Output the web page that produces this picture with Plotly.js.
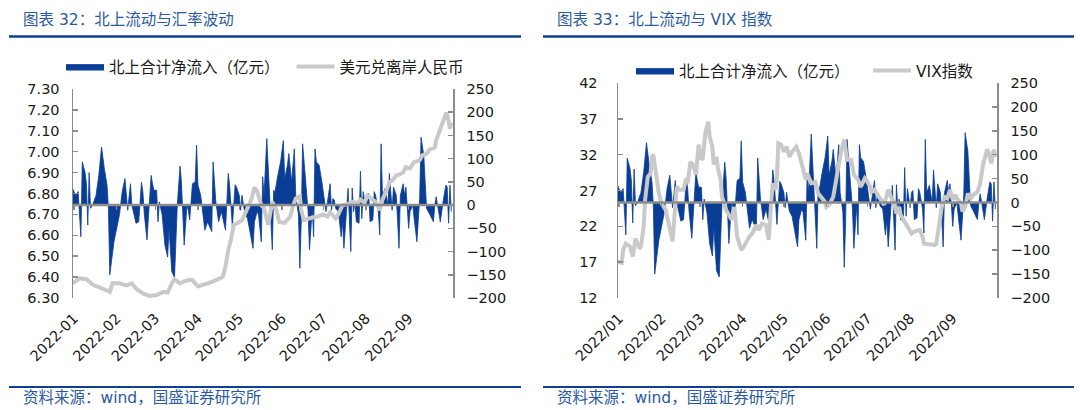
<!DOCTYPE html>
<html>
<head>
<meta charset="utf-8">
<script src="https://cdn.plot.ly/plotly-3.0.1.min.js"></script>
<style>html,body{margin:0;padding:0;background:#fff;overflow:hidden;}#chart{width:1080px;height:410px;}</style>
</head>
<body>
<div id="chart"></div>
<script>
// ---------- DATA ----------
const flowDates = ["2021-12-31","2022-01-02","2022-01-04","2022-01-06","2022-01-07","2022-01-09","2022-01-10","2022-01-11","2022-01-12","2022-01-13","2022-01-15","2022-01-17","2022-01-19","2022-01-21","2022-01-23","2022-01-25","2022-01-26","2022-01-27","2022-01-30",
"2022-02-03","2022-02-05","2022-02-07","2022-02-09","2022-02-11","2022-02-12","2022-02-15","2022-02-17","2022-02-19","2022-02-20","2022-02-21","2022-02-23","2022-02-25","2022-02-26","2022-02-27","2022-02-28",
"2022-03-02","2022-03-03","2022-03-04","2022-03-06","2022-03-08","2022-03-10","2022-03-11","2022-03-13","2022-03-15","2022-03-17","2022-03-19","2022-03-20","2022-03-22","2022-03-24","2022-03-25","2022-03-26","2022-03-28","2022-03-30","2022-03-31",
"2022-04-01","2022-04-03","2022-04-06","2022-04-08","2022-04-11","2022-04-12","2022-04-14","2022-04-16","2022-04-18","2022-04-21","2022-04-23","2022-04-24","2022-04-26","2022-04-28","2022-04-29",
"2022-05-01","2022-05-02","2022-05-03","2022-05-05","2022-05-07","2022-05-09","2022-05-11","2022-05-12","2022-05-14","2022-05-15","2022-05-17","2022-05-18","2022-05-19","2022-05-21","2022-05-23","2022-05-24","2022-05-25","2022-05-26","2022-05-27","2022-05-29","2022-05-31",
"2022-06-02","2022-06-03","2022-06-05","2022-06-06","2022-06-08","2022-06-10","2022-06-11","2022-06-13","2022-06-14","2022-06-15","2022-06-16","2022-06-18","2022-06-20","2022-06-21","2022-06-23","2022-06-24","2022-06-25","2022-06-26","2022-06-28","2022-06-30",
"2022-07-03","2022-07-06","2022-07-07","2022-07-08","2022-07-09","2022-07-10","2022-07-12","2022-07-14","2022-07-15","2022-07-16","2022-07-18","2022-07-19","2022-07-21","2022-07-22","2022-07-23","2022-07-24","2022-07-25","2022-07-27","2022-07-28","2022-07-29","2022-07-30",
"2022-08-01","2022-08-02","2022-08-03","2022-08-04","2022-08-06","2022-08-07","2022-08-08","2022-08-10","2022-08-11","2022-08-12","2022-08-13","2022-08-15","2022-08-17","2022-08-18","2022-08-20","2022-08-21","2022-08-23","2022-08-25","2022-08-26","2022-08-28","2022-08-29","2022-08-30",
"2022-09-01","2022-09-02","2022-09-04","2022-09-05","2022-09-07","2022-09-09","2022-09-10","2022-09-12","2022-09-13","2022-09-14","2022-09-16","2022-09-19","2022-09-20","2022-09-21","2022-09-23","2022-09-24","2022-09-26","2022-09-28","2022-09-29","2022-09-30","2022-10-01","2022-10-02"];
const flowValues = [36,21,29,-68,93,71,46,-43,70,-7,4,21,64,125,79,43,-7,-150,-79,
-21,29,57,-11,46,0,-39,-36,49,29,-18,-75,14,64,46,32,
32,-36,7,-21,-86,-112,-50,-143,-156,0,84,50,-86,0,-11,-32,46,50,129,
43,21,-54,-36,-57,93,7,-36,-14,-54,68,43,-46,44,39,
21,-11,21,-18,-29,-64,-93,-36,-14,-21,-79,61,21,143,29,-21,-96,32,29,64,93,
139,57,86,111,50,121,21,-21,-136,-36,132,64,-14,-96,-7,-68,121,93,86,50,
-14,46,-11,14,11,-7,-14,-68,-36,-93,-18,36,-100,37,-14,7,-36,-39,73,-29,29,
-11,21,25,-36,-32,29,21,-14,-64,132,21,36,0,68,-11,39,21,-93,21,46,21,39,
-50,-14,0,-29,-79,14,146,107,57,-7,-18,-36,0,18,-18,-36,7,43,39,-39,43,-14];

const cnhDates = ["2021-12-31","2022-01-05","2022-01-10","2022-01-15","2022-01-20","2022-01-25","2022-01-27","2022-01-29","2022-02-03","2022-02-08","2022-02-12","2022-02-15","2022-02-20","2022-02-25",
"2022-03-02","2022-03-07","2022-03-10","2022-03-13","2022-03-15","2022-03-19","2022-03-22","2022-03-26","2022-03-28","2022-04-01","2022-04-04","2022-04-08","2022-04-12","2022-04-15","2022-04-19","2022-04-21","2022-04-23","2022-04-25","2022-04-27","2022-04-30",
"2022-05-03","2022-05-07","2022-05-10","2022-05-12","2022-05-14","2022-05-17","2022-05-19","2022-05-22","2022-05-25","2022-05-28","2022-05-30","2022-06-03","2022-06-07","2022-06-09","2022-06-11","2022-06-14","2022-06-15","2022-06-17","2022-06-20","2022-06-23","2022-06-27",
"2022-07-01","2022-07-04","2022-07-06","2022-07-10","2022-07-12","2022-07-15","2022-07-19","2022-07-22","2022-07-26","2022-07-28","2022-07-31","2022-08-02","2022-08-06","2022-08-08","2022-08-11","2022-08-13","2022-08-16","2022-08-18","2022-08-20","2022-08-23","2022-08-25","2022-08-28","2022-08-30",
"2022-09-02","2022-09-05","2022-09-09","2022-09-11","2022-09-14","2022-09-16","2022-09-20","2022-09-21","2022-09-23","2022-09-26","2022-09-28","2022-09-29","2022-10-01","2022-10-02"];
const cnhValues = [6.370,6.394,6.390,6.362,6.350,6.335,6.330,6.370,6.370,6.360,6.370,6.345,6.322,6.310,
6.314,6.330,6.326,6.370,6.389,6.370,6.380,6.387,6.385,6.355,6.360,6.370,6.380,6.389,6.400,6.450,6.530,6.580,6.650,6.660,
6.672,6.730,6.776,6.830,6.810,6.744,6.730,6.650,6.760,6.720,6.664,6.660,6.690,6.740,6.776,6.787,6.720,6.672,6.680,6.685,6.690,
6.700,6.690,6.710,6.680,6.700,6.744,6.750,6.760,6.755,6.770,6.755,6.790,6.770,6.760,6.720,6.770,6.816,6.855,6.860,6.887,6.890,6.900,6.927,
6.920,6.950,6.960,6.983,6.990,7.010,7.020,7.054,7.094,7.150,7.180,7.180,7.110,7.140];

const vixDates = ["2021-12-31","2022-01-03","2022-01-04","2022-01-06","2022-01-09","2022-01-11","2022-01-13","2022-01-16","2022-01-17","2022-01-19","2022-01-20","2022-01-22","2022-01-24","2022-01-25","2022-01-26","2022-01-27","2022-01-30",
"2022-02-01","2022-02-04","2022-02-09","2022-02-11","2022-02-12","2022-02-14","2022-02-17","2022-02-19","2022-02-20","2022-02-22","2022-02-24","2022-02-26","2022-02-28",
"2022-03-02","2022-03-03","2022-03-05","2022-03-07","2022-03-08","2022-03-10","2022-03-11","2022-03-13","2022-03-14","2022-03-16","2022-03-17","2022-03-20","2022-03-24","2022-03-26","2022-03-28","2022-03-31",
"2022-04-02","2022-04-06","2022-04-08","2022-04-11","2022-04-13","2022-04-15","2022-04-18","2022-04-20","2022-04-22","2022-04-23","2022-04-25","2022-04-26","2022-04-27","2022-04-29",
"2022-05-01","2022-05-03","2022-05-05","2022-05-07","2022-05-10","2022-05-12","2022-05-17","2022-05-18","2022-05-21","2022-05-24","2022-05-26","2022-05-28","2022-05-31",
"2022-06-01","2022-06-03","2022-06-06","2022-06-08","2022-06-10","2022-06-12","2022-06-14","2022-06-15","2022-06-16","2022-06-19","2022-06-21","2022-06-24","2022-06-26","2022-06-29","2022-06-30",
"2022-07-03","2022-07-04","2022-07-06","2022-07-09","2022-07-11","2022-07-13","2022-07-15","2022-07-16","2022-07-18","2022-07-20","2022-07-22","2022-07-24","2022-07-25","2022-07-28","2022-07-30",
"2022-08-02","2022-08-04","2022-08-08","2022-08-10","2022-08-11","2022-08-14","2022-08-16","2022-08-19","2022-08-20","2022-08-22","2022-08-23","2022-08-24","2022-08-26","2022-08-28","2022-08-30",
"2022-09-01","2022-09-03","2022-09-04","2022-09-07","2022-09-08","2022-09-10","2022-09-12","2022-09-14","2022-09-16","2022-09-19","2022-09-21","2022-09-23","2022-09-26","2022-09-27","2022-09-29","2022-10-01","2022-10-02"];
const vixValues = [17.1,16.9,18.7,19.6,19.2,17.8,20.3,18.9,19.2,22.0,25.7,28.9,29.4,31.7,32.0,30.8,26.6,
25.2,24.3,19.9,24.7,27.5,27.1,27.1,28.7,28.0,31.0,30.6,29.2,33.4,
31.3,31.5,35.2,36.6,34.5,33.1,30.6,31.7,30.1,28.5,26.1,24.3,22.9,24.7,20.6,18.7,
19.2,20.6,21.0,22.2,21.5,22.4,22.2,20.1,25.9,28.0,27.1,28.9,33.6,33.4,
32.4,33.1,31.7,32.4,33.1,32.2,28.5,29.4,28.0,28.2,26.6,26.1,25.4,
24.7,25.0,26.1,28.0,30.6,32.7,34.1,32.7,31.3,31.3,29.2,28.5,27.5,28.7,28.5,
27.5,26.8,27.1,26.1,25.4,25.0,26.4,27.1,26.1,25.4,23.8,24.7,23.6,22.7,22.0,
21.0,21.3,21.5,20.6,19.6,19.5,19.5,19.4,19.6,21.7,23.4,24.7,26.1,25.9,27.1,
25.7,26.4,25.9,25.2,24.1,24.7,26.6,25.9,26.4,26.8,28.0,30.6,32.7,32.4,30.8,32.7,31.7];

const monthTicks = ["2022-01-01","2022-02-01","2022-03-01","2022-04-01","2022-05-01","2022-06-01","2022-07-01","2022-08-01","2022-09-01"];
const monthLabelsDash = ["2022-01","2022-02","2022-03","2022-04","2022-05","2022-06","2022-07","2022-08","2022-09"];
const monthLabelsSlash = ["2022/01","2022/02","2022/03","2022/04","2022/05","2022/06","2022/07","2022/08","2022/09"];
const xRange = ["2021-12-31 06:30","2022-10-03 05:00"];
const flowRange = [-200, 250];
const cnhRange = [6.3, 7.3];
const vixRange = [12, 42];

const nameFlow = "北上合计净流入（亿元）";
const nameCnh = "美元兑离岸人民币";
const nameVix = "VIX指数";

// ---------- STYLE ----------
const FONT = "DejaVu Sans, Noto Sans CJK SC, sans-serif";
const BLUE = "#0A3D96";
const GRAY = "#C9C9C9";
const AXIS = "#8C8C8C";
const TXT = "#1a1a1a";
const HEAD = "#2C5AA0";
const RULE = "#0E3F93";

const W = 1080, H = 410;
const px = v => v / W, py = v => 1 - v / H;
const domL = [px(73), px(453)], domR = [px(618), px(997)];
const domYL = [py(298), py(89)], domYR = [py(298), py(83)];
const zeroPos = (dom, r) => dom[0] + (0 - r[0]) / (r[1] - r[0]) * (dom[1] - dom[0]);

const tickFont = {family: FONT, size: 14.5, color: TXT};

function yAx(extra) {
  return Object.assign({
    showgrid: false, zeroline: false, showline: true, linecolor: AXIS, linewidth: 1.5,
    ticks: "inside", ticklen: 5, tickcolor: AXIS, tickwidth: 1.5,
    tickfont: tickFont, fixedrange: true
  }, extra);
}
function xAx(extra) {
  return Object.assign({
    type: "date", range: xRange, tickmode: "array", tickvals: monthTicks,
    showgrid: false, zeroline: false, showline: false, ticks: "",
    tickangle: -45, tickfont: tickFont, fixedrange: true
  }, extra);
}
function xZero(extra) {
  return Object.assign({
    type: "date", range: xRange, tickmode: "array", tickvals: monthTicks,
    showgrid: false, zeroline: false, showline: false, ticks: "outside", ticklen: 4,
    tickcolor: AXIS, tickwidth: 1.5, showticklabels: false, anchor: "free", fixedrange: true
  }, extra);
}

const traces = [
  {type: "scatter", mode: "lines", x: flowDates, y: flowValues, xaxis: "x", yaxis: "y",
   fill: "tozeroy", fillcolor: BLUE, line: {color: BLUE, width: 0.8}, name: nameFlow, legend: "legend", showlegend: true},
  {type: "scatter", mode: "lines", x: cnhDates, y: cnhValues, xaxis: "x", yaxis: "y2",
   line: {color: GRAY, width: 4}, name: nameCnh, legend: "legend2", showlegend: true},
  {type: "scatter", mode: "lines", x: flowDates, y: flowValues, xaxis: "x2", yaxis: "y3",
   fill: "tozeroy", fillcolor: BLUE, line: {color: BLUE, width: 0.8}, name: nameFlow, legend: "legend3", showlegend: true},
  {type: "scatter", mode: "lines", x: vixDates, y: vixValues, xaxis: "x2", yaxis: "y4",
   line: {color: GRAY, width: 4}, name: nameVix, legend: "legend4", showlegend: true},
  {type: "scatter", mode: "lines", x: [], y: [], xaxis: "x3", yaxis: "y", showlegend: false, hoverinfo: "skip"},
  {type: "scatter", mode: "lines", x: [], y: [], xaxis: "x4", yaxis: "y3", showlegend: false, hoverinfo: "skip"}
];

const legendBase = {
  orientation: "h", xanchor: "left", yanchor: "middle", visible: true,
  font: {family: FONT, size: 15.5, color: TXT}, itemwidth: 38,
  bgcolor: "rgba(0,0,0,0)", borderwidth: 0, traceorder: "normal"
};

const layout = {
  width: W, height: H, autosize: false,
  margin: {l: 0, r: 0, t: 0, b: 0, pad: 0},
  paper_bgcolor: "#fff", plot_bgcolor: "rgba(0,0,0,0)",
  font: {family: FONT, color: TXT},
  hovermode: false,
  showlegend: true,
  xaxis: xAx({domain: domL, anchor: "y", ticktext: monthLabelsDash, ticklabelstandoff: 8}),
  yaxis: yAx({domain: domYL, range: flowRange, dtick: 50, side: "right", anchor: "x", ticklabelstandoff: 9}),
  yaxis2: yAx({range: cnhRange, dtick: 0.1, tickformat: ".2f", side: "left", overlaying: "y", anchor: "x", ticklabelstandoff: 9}),
  xaxis2: xAx({domain: domR, anchor: "y3", ticktext: monthLabelsSlash, ticklabelstandoff: 8}),
  yaxis3: yAx({domain: domYR, range: flowRange, dtick: 50, side: "right", anchor: "x2", ticklabelstandoff: 9}),
  yaxis4: yAx({range: vixRange, tick0: 12, dtick: 5, side: "left", overlaying: "y3", anchor: "x2", ticklabelstandoff: 16}),
  xaxis3: xZero({overlaying: "x", position: zeroPos(domYL, flowRange)}),
  xaxis4: xZero({overlaying: "x2", position: zeroPos(domYR, flowRange)}),
  legend: Object.assign({}, legendBase, {x: px(61), y: py(67)}),
  legend2: Object.assign({}, legendBase, {x: px(291.5), y: py(67)}),
  legend3: Object.assign({}, legendBase, {x: px(631), y: py(71)}),
  legend4: Object.assign({}, legendBase, {x: px(868), y: py(71)}),
  shapes: [
    {type: "line", xref: "x domain", yref: "y", x0: 0, x1: 1, y0: 0, y1: 0, line: {color: AXIS, width: 2.5}, layer: "above"},
    {type: "line", xref: "x2 domain", yref: "y3", x0: 0, x1: 1, y0: 0, y1: 0, line: {color: AXIS, width: 2.5}, layer: "above"},
    {type: "line", xref: "paper", yref: "paper", x0: px(9), x1: px(521), y0: py(36.5), y1: py(36.5), line: {color: RULE, width: 2.6}},
    {type: "line", xref: "paper", yref: "paper", x0: px(543), x1: px(1074), y0: py(36.5), y1: py(36.5), line: {color: RULE, width: 2.6}},
    {type: "line", xref: "paper", yref: "paper", x0: px(9), x1: px(521), y0: py(387), y1: py(387), line: {color: RULE, width: 2}},
    {type: "line", xref: "paper", yref: "paper", x0: px(543), x1: px(1074), y0: py(387), y1: py(387), line: {color: RULE, width: 2}}
  ],
  annotations: [
    {xref: "paper", yref: "paper", x: px(21), y: py(19.5), xanchor: "left", yanchor: "middle", showarrow: false,
     text: "图表 32：北上流动与汇率波动", font: {family: FONT, size: 15.5, color: HEAD}},
    {xref: "paper", yref: "paper", x: px(555), y: py(19.5), xanchor: "left", yanchor: "middle", showarrow: false,
     text: "图表 33：北上流动与 VIX 指数", font: {family: FONT, size: 15.5, color: HEAD}},
    {xref: "paper", yref: "paper", x: px(21), y: py(398), xanchor: "left", yanchor: "middle", showarrow: false,
     text: "资料来源：wind，国盛证券研究所", font: {family: FONT, size: 15.5, color: HEAD}},
    {xref: "paper", yref: "paper", x: px(555), y: py(398), xanchor: "left", yanchor: "middle", showarrow: false,
     text: "资料来源：wind，国盛证券研究所", font: {family: FONT, size: 15.5, color: HEAD}}
  ]
};

Plotly.newPlot("chart", traces, layout, {staticPlot: true, displayModeBar: false});
</script>
</body>
</html>
